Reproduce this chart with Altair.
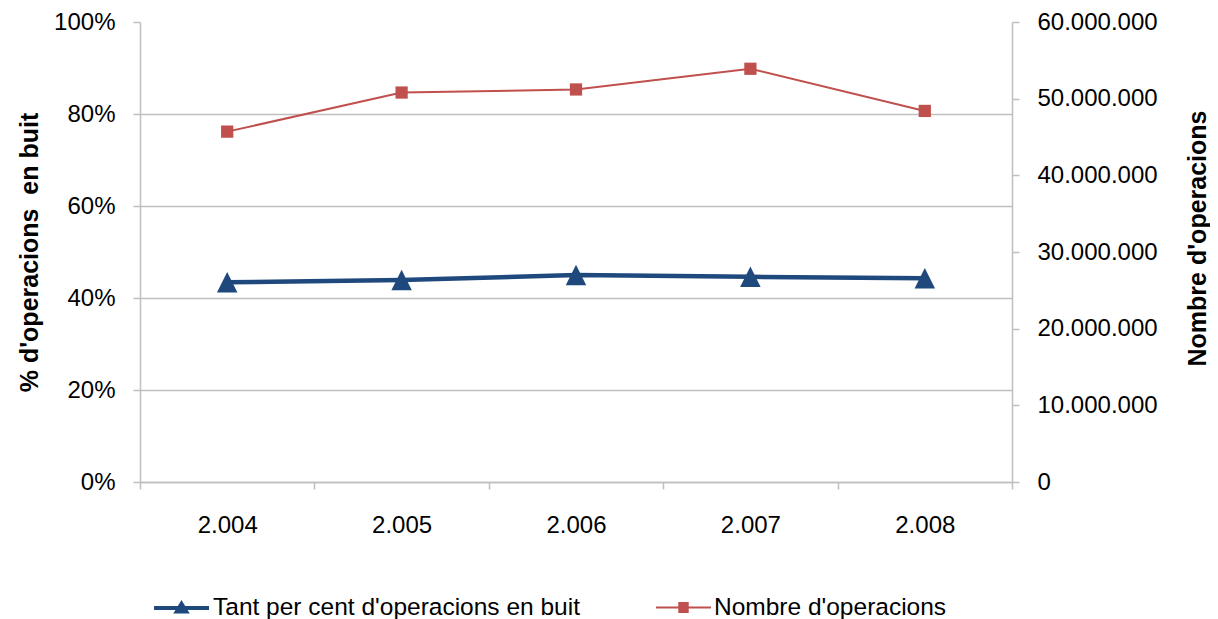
import altair as alt
import pandas as pd

# ---- data ----
years = ["2.004", "2.005", "2.006", "2.007", "2.008"]
pct_buit = [43.4, 43.9, 45.0, 44.6, 44.3]
nombre_ops = [45700000, 50800000, 51200000, 53900000, 48400000]
series = ["Tant per cent d'operacions en buit", "Nombre d'operacions"]
colors = ["#1F497D", "#C0504D"]
pct_ticks = [0, 20, 40, 60, 80, 100]
ops_ticks = [0, 10000000, 20000000, 30000000, 40000000, 50000000, 60000000]

df_pct = pd.DataFrame({"any": years, "valor": pct_buit, "serie": series[0]})
df_ops = pd.DataFrame({"any": years, "valor": nombre_ops, "serie": series[1]})

FONT = "Liberation Sans"
GRAY = "#BFBFBF"

x_enc = alt.X(
    "any:O",
    scale=alt.Scale(type="band", domain=years, paddingInner=0, paddingOuter=0),
    axis=alt.Axis(title=None, tickBand="extent", labelPadding=24, labelAngle=0, grid=False),
)

y_left = alt.Y(
    "valor:Q",
    scale=alt.Scale(domain=[0, 100], nice=False),
    axis=alt.Axis(
        title="% d'operacions\u00a0 en buit",
        values=pct_ticks,
        labelExpr="datum.value + '%'",
        grid=True,
        gridOpacity={"condition": {"test": "datum.value >= 100", "value": 0}, "value": 1},
        labelPadding=18,
        titlePadding=11,
    ),
)

y_right = alt.Y(
    "valor:Q",
    scale=alt.Scale(domain=[0, 60000000], nice=False),
    axis=alt.Axis(
        orient="right",
        title="Nombre d'operacions",
        values=ops_ticks,
        labelExpr="datum.value == 0 ? '0' : format(datum.value / 1000000, 'd') + '.000.000'",
        grid=False,
        labelPadding=18,
        titleAngle=270,
        titleBaseline="top",
        titlePadding=28,
        titleY=216,
    ),
)

blue_line = alt.Chart(df_pct).mark_line(color=colors[0], strokeWidth=4.5).encode(x=x_enc, y=y_left)
blue_pts = alt.Chart(df_pct).mark_point(
    filled=True, opacity=1, shape="M0,-1L1,1L-1,1Z", size=420, color=colors[0]
).encode(x=x_enc, y=y_left)
left = alt.layer(blue_line, blue_pts)

red_line = alt.Chart(df_ops).mark_line(color=colors[1], strokeWidth=2).encode(x=x_enc, y=y_right)
red_pts = alt.Chart(df_ops).mark_point(
    filled=True, opacity=1, shape="square", size=150, color=colors[1]
).encode(x=x_enc, y=y_right)

# legend symbols: a line with the series marker on it (drawn with strokes only)
legend_paths = [
    "M-1,0H1M-0.17,0.13L0,-0.15L0.17,0.13Z",
    "M-1,0H1M-0.19,-0.164H0.19M-0.19,-0.109H0.19M-0.19,-0.055H0.19"
    "M-0.19,0.055H0.19M-0.19,0.109H0.19M-0.19,0.164H0.19",
]
legend_carrier = alt.Chart(df_ops).mark_point(filled=True, opacity=0).encode(
    x=x_enc,
    y=y_right,
    fill=alt.Fill("serie:N", scale=alt.Scale(domain=series, range=colors), legend=alt.Legend(
        orient="none", legendX=12, legendY=556, direction="horizontal", title=None,
        labelFont=FONT, labelFontSize=24.5, labelColor="black", labelLimit=0,
        symbolSize=3025, symbolOpacity=1, labelOffset=2, columnPadding=72,
    )),
    stroke=alt.Stroke("serie:N", scale=alt.Scale(domain=series, range=colors)),
    shape=alt.Shape("serie:N", scale=alt.Scale(domain=series, range=legend_paths)),
    strokeWidth=alt.StrokeWidth("serie:N", scale=alt.Scale(domain=series, range=[4, 2])),
)
right = alt.layer(red_line, red_pts, legend_carrier)

chart = (
    alt.layer(left, right)
    .resolve_scale(y="independent")
    .properties(
        width=872,
        height=460,
        autosize=alt.AutoSizeParams(type="none"),
        padding={"left": 132, "top": 14, "right": 198, "bottom": 137},
    )
    .configure_view(stroke=None)
    .configure_axis(
        labelFont=FONT,
        labelFontSize=24,
        labelColor="black",
        titleFont=FONT,
        titleFontSize=25,
        titleFontWeight="bold",
        titleColor="black",
        domainColor=GRAY,
        domainWidth=1.5,
        tickColor=GRAY,
        tickWidth=1.5,
        tickSize=7,
        gridColor=GRAY,
        gridWidth=1.5,
    )
)

chart.save("out.html", embed_options={"renderer": "svg", "actions": False})
